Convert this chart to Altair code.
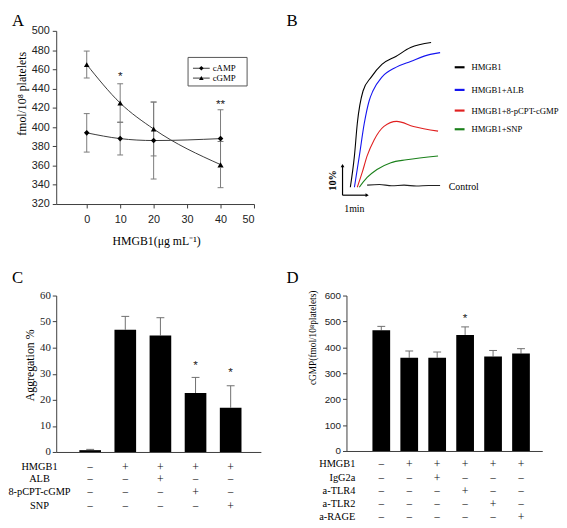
import altair as alt
import pandas as pd

SERIF = "Liberation Serif"
SANS = "Liberation Sans"
AXC = "#3c3c3c"

# ---------------- Panel A data ----------------
a_dose = [0, 10, 20, 40]
a_camp = [394, 388, 386, 388]
a_camp_err = [20, 17, 40, 30]
a_cgmp = [465, 425, 398, 361]
a_cgmp_err = [14, 20, 28, 24]
a_series = ["cAMP", "cGMP"]
a_shapes = ["diamond", "triangle-up"]
a_star_dose = [10, 40]
a_star_val = [453, 424]
a_star_text = ["*", "**"]
a_xticks = [0, 10, 20, 30, 40, 50]
a_yticks = [320, 340, 360, 380, 400, 420, 440, 460, 480, 500]

# ---------------- Panel B data (time s, aggregation %) ----------------
b_names = ["HMGB1", "HMGB1+ALB", "HMGB1+8-pCPT-cGMP", "HMGB1+SNP", "Control"]
b_colors = ["#000000", "#1414f0", "#e02020", "#1a801a", "#222222"]
b_hmgb1_t = [19, 29, 36, 50, 70, 96, 130, 166, 216]
b_hmgb1_p = [2.7, 13.3, 24.3, 35.3, 40.0, 44.3, 47.0, 50.0, 51.7]
b_alb_t = [29, 41, 53, 65, 74, 96, 130, 166, 214, 238]
b_alb_p = [2.7, 13.3, 24.3, 32.0, 35.3, 40.0, 43.3, 45.3, 47.7, 48.3]
b_cgmp_t = [36, 48, 60, 77, 101, 132, 173, 233]
b_cgmp_p = [2.7, 7.7, 13.3, 18.7, 23.3, 25.0, 23.3, 21.7]
b_snp_t = [41, 60, 84, 118, 156, 233]
b_snp_p = [2.7, 6.0, 8.7, 11.0, 12.0, 13.3]
b_ctrl_t = [60, 90, 120, 150, 180, 210, 238]
b_ctrl_p = [3.4, 3.6, 3.2, 3.4, 3.1, 3.3, 3.3]
b_bar_t = [0, 60]   # 1 min
b_bar_p = [0, 10]   # 10 %

# ---------------- Panel C data ----------------
c_pos = [1, 2, 3, 4, 5]
c_val = [0.7, 46.9, 44.7, 22.6, 17.0]
c_hi = [1.0, 52.0, 51.5, 28.6, 25.4]
c_rows = ["HMGB1", "ALB", "8-pCPT-cGMP", "SNP"]
c_signs = [["−", "+", "+", "+", "+"],
           ["−", "−", "+", "−", "−"],
           ["−", "−", "−", "+", "−"],
           ["−", "−", "−", "−", "+"]]
c_star_pos = [4, 5]
c_star_val = [33.5, 30.5]
c_yticks = [0, 10, 20, 30, 40, 50, 60]

# ---------------- Panel D data ----------------
d_pos = [1, 2, 3, 4, 5, 6]
d_val = [466, 360, 360, 448, 365, 376]
d_hi = [481, 386, 382, 479, 388, 395]
d_rows = ["HMGB1", "IgG2a", "a-TLR4", "a-TLR2", "a-RAGE"]
d_signs = [["−", "+", "+", "+", "+", "+"],
           ["−", "−", "+", "−", "−", "−"],
           ["−", "−", "−", "+", "−", "−"],
           ["−", "−", "−", "−", "+", "−"],
           ["−", "−", "−", "−", "−", "+"]]
d_star_pos = [4]
d_star_val = [515]
d_yticks = [0, 100, 200, 300, 400, 500, 600]

one = pd.DataFrame({"k": [0]})


def label(text, x, y, size=12, font=SERIF, align="center", baseline="middle",
          angle=0, weight="normal", color="black"):
    m = dict(text=text, font=font, fontSize=size, align=align, baseline=baseline,
             color=color, fontWeight=weight)
    if angle:
        m["angle"] = angle
    return alt.Chart(one).mark_text(**m).encode(x=alt.value(x), y=alt.value(y))


# ================= Panel A =================
n = len(a_dose)
dfA = pd.DataFrame({
    "dose": a_dose + a_dose,
    "val": a_camp + a_cgmp,
    "err": a_camp_err + a_cgmp_err,
    "series": [a_series[0]] * n + [a_series[1]] * n,
})
dfA["lo"] = dfA["val"] - dfA["err"]
dfA["hi"] = dfA["val"] + dfA["err"]

sxA = alt.Scale(domain=[-9.12, 50], nice=False, zero=False)
syA = alt.Scale(domain=[320, 500], nice=False, zero=False)
axXA = alt.Axis(values=a_xticks, title=None, grid=False, labelFont=SANS, labelFontSize=11,
                labelColor="#222", tickSize=4, labelPadding=6, domainColor=AXC, tickColor=AXC)
axYA = alt.Axis(values=a_yticks, title=None, grid=False, labelFont=SANS, labelFontSize=11,
                labelColor="#222", tickSize=4, labelPadding=3, domainColor=AXC, tickColor=AXC)


def xa(f):
    return alt.X(f, type="quantitative", scale=sxA, axis=axXA)


def ya(f):
    return alt.Y(f, type="quantitative", scale=syA, axis=axYA)


baseA = alt.Chart(dfA)
a_err = baseA.mark_rule(color="#7a7a7a").encode(x=xa("dose"), y=ya("lo"), y2="hi")
a_caplo = baseA.mark_rule(color="#7a7a7a", xOffset=-3, x2Offset=3).encode(
    x=xa("dose"), x2="dose", y=ya("lo"))
a_caphi = baseA.mark_rule(color="#7a7a7a", xOffset=-3, x2Offset=3).encode(
    x=xa("dose"), x2="dose", y=ya("hi"))
a_line = baseA.mark_line(color="#3a3a3a", strokeWidth=1, interpolate="monotone").encode(
    x=xa("dose"), y=ya("val"), detail="series:N")
a_pts = baseA.mark_point(filled=True, color="black", opacity=1, size=32).encode(
    x=xa("dose"), y=ya("val"),
    shape=alt.Shape("series:N", scale=alt.Scale(domain=a_series, range=a_shapes), legend=None))
dfAS = pd.DataFrame({"dose": a_star_dose, "val": a_star_val, "t": a_star_text})
a_star = alt.Chart(dfAS).mark_text(font=SANS, fontSize=12, color="#222").encode(
    x=xa("dose"), y=ya("val"), text="t:N")

a_box = alt.Chart(one).mark_rect(fill="white", stroke="#555", strokeWidth=1).encode(
    x=alt.value(134), x2=alt.value(194), y=alt.value(27), y2=alt.value(56))
a_leg = [a_box]
for i, (s, shp) in enumerate(zip(a_series, a_shapes)):
    yy = 38 + 10 * i
    a_leg.append(alt.Chart(one).mark_rule(color="#3a3a3a").encode(
        x=alt.value(139), x2=alt.value(156), y=alt.value(yy)))
    a_leg.append(alt.Chart(one).mark_point(filled=True, color="black", opacity=1, size=22,
                                           shape=shp).encode(x=alt.value(147.5), y=alt.value(yy)))
    a_leg.append(label(s, 159, yy, size=9, align="left"))

panelA = alt.layer(
    a_err, a_caplo, a_caphi, a_line, a_pts, a_star, *a_leg,
    label("A", -45, -18, size=17, align="left", baseline="top"),
    label("fmol/10⁸ platelets", -35, 64, size=12, angle=270),
    label("HMGB1(μg mL⁻¹)", 102, 214, size=12),
).properties(width=201, height=176)

# ================= Panel B =================
trace_t = [b_hmgb1_t, b_alb_t, b_cgmp_t, b_snp_t, b_ctrl_t]
trace_p = [b_hmgb1_p, b_alb_p, b_cgmp_p, b_snp_p, b_ctrl_p]
rows = []
for name, ts, ps in zip(b_names, trace_t, trace_p):
    for t, p in zip(ts, ps):
        rows.append({"name": name, "t": t, "p": p})
dfB = pd.DataFrame(rows)

sxB = alt.Scale(domain=[9.6, 249.6], nice=False, zero=False)
syB = alt.Scale(domain=[-3.0, 55.67], nice=False, zero=False)


def xb(f):
    return alt.X(f, type="quantitative", scale=sxB, axis=None)


def yb(f):
    return alt.Y(f, type="quantitative", scale=syB, axis=None)


b_lines = alt.Chart(dfB).mark_line(strokeWidth=1.1, interpolate="monotone").encode(
    x=xb("t"), y=yb("p"),
    color=alt.Color("name:N", scale=alt.Scale(domain=b_names, range=b_colors), legend=None))

dfBar = pd.DataFrame({"t0": [b_bar_t[0]], "t1": [b_bar_t[1]],
                      "p0": [b_bar_p[0]], "p1": [b_bar_p[1]]})
b_vbar = alt.Chart(dfBar).mark_rule(color="black", strokeWidth=1.2).encode(
    x=xb("t0"), y=yb("p0"), y2="p1")
b_hbar = alt.Chart(dfBar).mark_rule(color="black", strokeWidth=1.2).encode(
    x=xb("t0"), x2="t1", y=yb("p0"))
b_arr1 = alt.Chart(dfBar).mark_point(shape="triangle-up", filled=True, color="black",
                                     opacity=1, size=14).encode(x=xb("t0"), y=yb("p1"))
b_arr2 = alt.Chart(dfBar).mark_point(shape="triangle-right", filled=True, color="black",
                                     opacity=1, size=14).encode(x=xb("t1"), y=yb("p0"))

b_leg = []
for i, (name, col) in enumerate(zip(b_names[:4], b_colors[:4])):
    yy = [37, 60, 81, 100][i]
    b_leg.append(alt.Chart(one).mark_rule(color=col, strokeWidth=2.2).encode(
        x=alt.value(110), x2=alt.value(120), y=alt.value(yy)))
    b_leg.append(label(name, 127, yy, size=8.8, align="left"))

panelB = alt.layer(
    b_lines, b_vbar, b_hbar, b_arr1, b_arr2, *b_leg,
    label("B", -61, -18, size=17, align="left", baseline="top"),
    label("10%", -14, 152, size=10.5, angle=270, weight="bold"),
    label("1min", 8, 181, size=10),
    label("Control", 104, 159, size=10, align="left"),
).properties(width=100, height=176)


# ================= Bar panels =================
def bar_panel(pos, val, hi, dom_x, dom_y, yticks, tick_font, tick_size, width, height, bar_w,
              rows_lab, signs, row_y, lab_x, lab_align, lab_size, star_pos, star_val,
              letter, letter_x, ytitle, ytitle_x, ytitle_y, ytitle_size):
    sx = alt.Scale(domain=dom_x, nice=False, zero=False)
    sy = alt.Scale(domain=dom_y, nice=False, zero=True)
    axX = alt.Axis(labels=False, ticks=False, grid=False, title=None, domainColor=AXC)
    axY = alt.Axis(values=yticks, title=None, grid=False, labelFont=tick_font,
                   labelFontSize=tick_size, labelColor="#222", tickSize=4, labelPadding=2,
                   domainColor=AXC, tickColor=AXC)

    def xx(f):
        return alt.X(f, type="quantitative", scale=sx, axis=axX)

    def yy(f):
        return alt.Y(f, type="quantitative", scale=sy, axis=axY)

    df = pd.DataFrame({"pos": pos, "val": val, "hi": hi})
    base = alt.Chart(df)
    err = base.mark_rule(color="#6e6e6e").encode(x=xx("pos"), y=yy("val"), y2="hi")
    cap = base.mark_rule(color="#6e6e6e", xOffset=-4, x2Offset=4).encode(
        x=xx("pos"), x2="pos", y=yy("hi"))
    bars = base.mark_bar(size=bar_w, color="black").encode(x=xx("pos"), y=yy("val"))
    dfs = pd.DataFrame({"pos": star_pos, "val": star_val})
    star = alt.Chart(dfs).mark_text(text="*", font=SANS, fontSize=12, color="#222").encode(
        x=xx("pos"), y=yy("val"))
    layers = [err, cap, bars, star]
    for lab, sg, ry in zip(rows_lab, signs, row_y):
        dft = pd.DataFrame({"pos": pos, "s": sg})
        layers.append(alt.Chart(dft).mark_text(font=SERIF, fontSize=12, color="#111").encode(
            x=xx("pos"), y=alt.value(ry), text="s:N"))
        layers.append(label(lab, lab_x, ry, size=lab_size, align=lab_align))
    layers.append(label(letter, letter_x, -26, size=17, align="left", baseline="top"))
    layers.append(label(ytitle, ytitle_x, ytitle_y, size=ytitle_size, angle=270))
    return alt.layer(*layers).properties(width=width, height=height)


panelC = bar_panel(c_pos, c_val, c_hi, [0.1733, 5.72], [0, 60], c_yticks, SERIF, 11, 208, 159, 22,
                   c_rows, c_signs, [174, 187, 200, 214], -17, "center", 10.5,
                   c_star_pos, c_star_val, "C", -45, "Aggregation %", -27, 71, 12)

panelD = bar_panel(d_pos, d_val, d_hi, [-0.07, 6.585], [0, 600], d_yticks, SANS, 10, 199, 158, 18,
                   d_rows, d_signs, [171, 185, 199, 212, 225], 9, "right", 10.5,
                   d_star_pos, d_star_val, "D", -61, "cGMP(fmol/10⁸platelets)", -34, 43, 9.5)

chart = alt.concat(
    panelA, panelB, panelC, panelD, columns=2,
    spacing={"row": 93, "column": 87},
).properties(bounds="flush", padding=0).configure_view(stroke=None)

chart.save("out.html", embed_options={"renderer": "svg", "actions": False})
